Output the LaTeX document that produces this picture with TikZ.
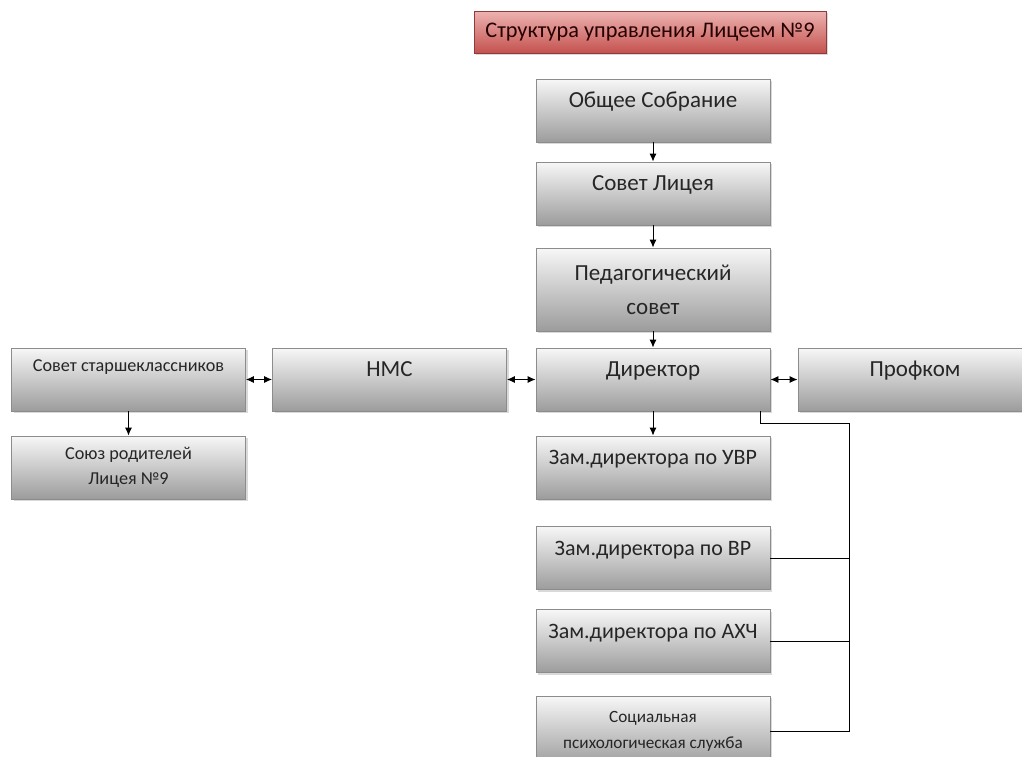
\documentclass[tikz,border=0pt]{standalone}
\usepackage{fontspec}
\setmainfont{Carlito}
\usetikzlibrary{arrows.meta,shadows}
\definecolor{boxline}{HTML}{8C8C8C}
\definecolor{boxtop}{HTML}{F7F7F7}
\definecolor{boxbot}{HTML}{9C9C9C}
\definecolor{boxtext}{HTML}{262626}
\definecolor{headtop}{HTML}{EDB3B1}
\definecolor{headbot}{HTML}{C4524F}
\definecolor{headline}{HTML}{8E3B39}
\tikzset{>={Latex[length=8pt,width=7pt]}, every path/.style={line width=0.9pt},
  box/.style={draw=boxline, top color=boxtop, bottom color=boxbot, text=boxtext, inner sep=0pt,
    minimum width=234, minimum height=63, align=center,
    drop shadow={shadow xshift=2pt, shadow yshift=-2pt, opacity=0.3}},
  bigtext/.style={font=\fontsize{23}{34}\selectfont},
  oneline/.style={bigtext, text height=8pt, text depth=14pt},
  smalltext/.style={font=\fontsize{18.2}{25}\selectfont},
  headbox/.style={draw=headline, top color=headtop, bottom color=headbot, text=black!85!red,
    inner sep=0pt, minimum width=352, minimum height=42, font=\fontsize{22.3}{26}\selectfont,
    drop shadow={shadow xshift=2pt, shadow yshift=-2pt, opacity=0.3}}}

\begin{document}
\begin{tikzpicture}[x=1pt,y=-1pt]
  \useasboundingbox (0,0) rectangle (1022,756);
  \node[headbox] (head) at (650,32) {Структура управления Лицеем №9};
  % main column
  \node[box,oneline] (sobr) at (653,110.5) {Общее Собрание};
  \node[box,oneline] (sovet) at (653,193.5) {Совет Лицея};
  \node[box,bigtext,minimum height=83] (ped) at (653,289.5) {Педагогический\\совет};
  \node[box,oneline] (dir) at (653,379.5) {Директор};
  \node[box,oneline] (nms) at (389.5,379.5) {НМС};
  \node[box,oneline] (prof) at (915,379.5) {Профком};
  \node[box,smalltext,text height=8pt,text depth=24pt] (starsh) at (128.5,379.5) {Совет старшеклассников};
  \node[box,smalltext] (rodit) at (128.5,467.5) {Союз родителей\\Лицея №9};
  \foreach \n/\txt/\y in {uvr/УВР/467.5, vr/ВР/558, axch/АХЧ/641}
    \node[box,oneline,font=\fontsize{22}{26}\selectfont] (\n) at (653,\y) {Зам.директора по \txt};
  \node[box,font=\fontsize{17.2}{26}\selectfont,minimum height=70] (soc) at (653,731) {Социальная\\психологическая служба};
  % arrows
  \foreach \a/\b in {sobr/sovet, sovet/ped, ped/dir, dir/uvr, starsh/rodit}
    \draw[->] (\a) -- (\b);
  \foreach \a/\b in {starsh/nms, nms/dir, dir/prof}
    \draw[<->] (\a) -- (\b);
  % line on the right
  \coordinate (bus) at (849,423);
  \draw ([xshift=-10pt]dir.south east) |- (bus) -- (bus |- soc.east) -- (soc.east);
  \foreach \n in {vr,axch}
    \draw (\n.east) -- (\n.east -| bus);
\end{tikzpicture}
\end{document}
